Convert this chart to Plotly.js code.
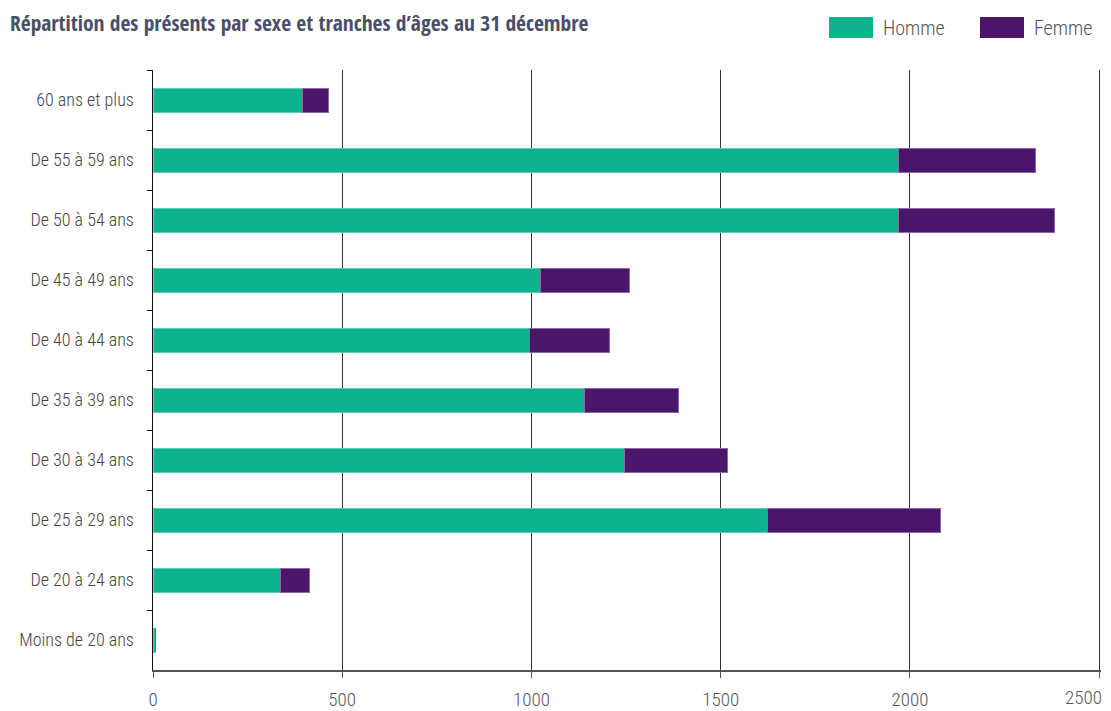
<!DOCTYPE html>
<html>
<head>
<meta charset="utf-8">
<script src="https://cdn.plot.ly/plotly-3.0.1.min.js"></script>
<style>html,body{margin:0;padding:0;background:#fff;}#chart{width:1111px;height:711px;}</style>
</head>
<body>
<div id="chart"></div>
<script>
const categories = ["60 ans et plus","De 55 à 59 ans","De 50 à 54 ans","De 45 à 49 ans","De 40 à 44 ans","De 35 à 39 ans","De 30 à 34 ans","De 25 à 29 ans","De 20 à 24 ans","Moins de 20 ans"];
const homme = [394, 1970, 1970, 1024, 995, 1141, 1247, 1623, 336, 6];
const femme = [70, 363, 411, 234, 210, 247, 270, 458, 77, 0];
const seriesNames = ["Homme", "Femme"];
const colors = ["#0eb28c", "#4b166a"];
const xTicks = [0, 500, 1000, 1500, 2000, 2500];
const xMax = 2505;

const FONT = '"Roboto Condensed", "DejaVu Sans Condensed", sans-serif';
const TITLE_FONT = '"Open Sans Condensed", "Roboto Condensed", sans-serif';

const traces = [homme, femme].map((vals, i) => ({
  type: 'bar',
  orientation: 'h',
  name: seriesNames[i],
  y: categories,
  x: vals,
  marker: {color: colors[i], line: {color: i === 0 ? '#5ccdb0' : '#8d67a6', width: 1}},
  hoverinfo: 'x+y+name'
}));

const PL = 153, PR = 1101, PT = 70, PB = 670;
const legendShapes = [];
const legendAnn = [];
const legendX = [829, 980];
seriesNames.forEach((n, i) => {
  legendShapes.push({type: 'rect', xref: 'paper', yref: 'paper',
    x0: (legendX[i] - PL) / (PR - PL), x1: (legendX[i] + 44 - PL) / (PR - PL),
    y0: (PB - 38) / (PB - PT), y1: (PB - 17) / (PB - PT),
    fillcolor: colors[i], line: {width: 0}});
  legendAnn.push({xref: 'paper', yref: 'paper',
    x: (legendX[i] + 52 - PL) / (PR - PL), y: (PB - 28) / (PB - PT),
    xanchor: 'left', yanchor: 'middle', showarrow: false, text: n,
    font: {family: FONT, size: 20, weight: 300, color: '#555'}});
});

// last tick label placed inside the figure (as in the reference)
const lastTick = xTicks[xTicks.length - 1];
legendAnn.push({xref: 'x', yref: 'paper', x: lastTick, y: 0, yshift: -27,
  xanchor: 'right', yanchor: 'middle', xshift: 5, showarrow: false,
  text: String(lastTick), font: {family: FONT, size: 19, weight: 300, color: '#555'}});

const layout = {
  width: 1111, height: 711,
  margin: {l: PL, r: 1111 - PR, t: PT, b: 711 - PB},
  paper_bgcolor: '#fff', plot_bgcolor: '#fff',
  barmode: 'stack',
  bargap: 0.6,
  showlegend: false,
  title: {text: 'Répartition des présents par sexe et tranches d’âges au 31 décembre',
    x: 10 / 1111, xanchor: 'left', xref: 'container',
    y: 1 - 23 / 711, yanchor: 'middle', yref: 'container',
    font: {family: TITLE_FONT, size: 21.5, color: '#4a4f68', weight: 'bold'}},
  xaxis: {
    range: [0, xMax], tickvals: xTicks, ticktext: xTicks.map(v => v === lastTick ? '' : String(v)),
    showgrid: true, gridcolor: '#333', gridwidth: 1,
    zeroline: false,
    showline: true, linecolor: '#555', linewidth: 1.5,
    ticks: 'outside', ticklen: 6, tickcolor: '#555', tickwidth: 1,
    tickfont: {family: FONT, size: 19, weight: 300, color: '#555'},
    ticklabelstandoff: 6,
    fixedrange: true
  },
  yaxis: {
    type: 'category', autorange: 'reversed',
    categoryorder: 'array', categoryarray: categories,
    showgrid: false, zeroline: false,
    showline: true, linecolor: '#111', linewidth: 1.5,
    ticks: 'outside', ticklen: 5, tickcolor: '#111', tickwidth: 1,
    tickson: 'boundaries',
    tickfont: {family: FONT, size: 18, weight: 300, color: '#444'},
    ticklabelstandoff: 14,
    fixedrange: true
  },
  shapes: legendShapes,
  annotations: legendAnn
};

Plotly.newPlot('chart', traces, layout, {displayModeBar: false, staticPlot: true});
</script>
</body>
</html>
